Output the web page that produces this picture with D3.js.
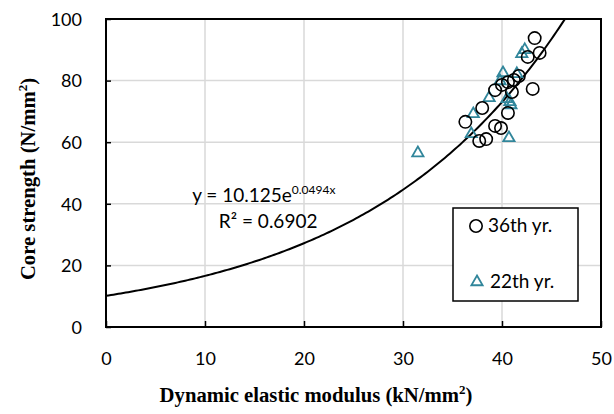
<!DOCTYPE html>
<meta charset="utf-8">
<style>
body { margin: 0; background: #fff; }
.tick text { font: 18px Lato, "Open Sans", sans-serif; fill: #000; }
.title { font: bold 20.7px "Liberation Serif", "Times New Roman", serif; fill: #000; }
.note { font: 19px Lato, "Open Sans", sans-serif; fill: #000; }
</style>
<body>
<script src="https://cdn.jsdelivr.net/npm/d3@7"></script>
<script>

// 36th yr. measurements (dynamic modulus, core strength)
var x36 = [36.3, 37.7, 38.4, 38.0, 39.3, 39.9, 40.6, 39.3, 40.0, 40.6, 41.2, 41.7, 41.0, 43.1, 42.6, 43.3, 43.8];
var y36 = [66.6, 60.4, 61.0, 71.1, 65.3, 64.6, 69.5, 76.9, 78.6, 79.5, 80.2, 81.5, 76.3, 77.3, 87.7, 93.8, 89.0];

// 22th yr. measurements
var x22 = [31.5, 36.9, 37.1, 38.7, 39.8, 40.1, 41.5, 42.0, 42.3, 40.5, 40.8, 40.9, 40.7];
var y22 = [56.8, 63.0, 69.5, 74.7, 80.2, 82.8, 82.5, 89.0, 90.3, 74.4, 73.4, 72.4, 61.7];

var xTicks = [0, 10, 20, 30, 40, 50];
var yTicks = [0, 20, 40, 60, 80, 100];

// fitted trend y = a * e^(b x)
var fitA = 10.125, fitB = 0.0494;

var margin = {top: 19, right: 13, bottom: 87, left: 106},
    width = 614 - margin.left - margin.right,
    height = 414 - margin.top - margin.bottom;

var x = d3.scaleLinear().domain([0, 50]).range([0, width]);
var y = d3.scaleLinear().domain([0, 100]).range([height, 0]);

var svg = d3.select("body").append("svg")
    .attr("width", 614)
    .attr("height", 414);

var g = svg.append("g")
    .attr("transform", "translate(" + margin.left + "," + margin.top + ")");

g.append("clipPath").attr("id", "plot")
  .append("rect").attr("width", width).attr("height", height);

// grid
g.append("g").selectAll("line")
    .data(xTicks.slice(1, -1))
  .enter().append("line")
    .attr("x1", d => x(d)).attr("x2", d => x(d))
    .attr("y1", 0).attr("y2", height)
    .attr("stroke", "#d9d9d9").attr("stroke-width", 1.5);

g.append("g").selectAll("line")
    .data(yTicks.slice(1, -1))
  .enter().append("line")
    .attr("y1", d => y(d)).attr("y2", d => y(d))
    .attr("x1", 0).attr("x2", width)
    .attr("stroke", "#d9d9d9").attr("stroke-width", 1.5);

// axes, ticks inside
var xAxis = d3.axisBottom(x).tickValues(xTicks).tickSizeInner(-6).tickSizeOuter(0);
var yAxis = d3.axisLeft(y).tickValues(yTicks).tickSizeInner(-5).tickSizeOuter(0);

var gx = g.append("g").attr("transform", "translate(0," + height + ")").call(xAxis);
var gy = g.append("g").call(yAxis);
[gx, gy].forEach(function(a) {
  a.select(".domain").remove();
  a.selectAll(".tick line").attr("stroke", "#000").attr("stroke-width", 1.5);
});
gx.selectAll(".tick text").attr("y", 38).attr("dy", null).attr("text-anchor", "middle");
gy.selectAll(".tick text").attr("x", -24).attr("dy", "0.35em").attr("text-anchor", "end");

// trend curve
var curveData = d3.range(0, 50.01, 0.25).map(function(v) { return [v, fitA * Math.exp(fitB * v)]; });
g.append("path")
    .datum(curveData)
    .attr("clip-path", "url(#plot)")
    .attr("fill", "none")
    .attr("stroke", "#000")
    .attr("stroke-width", 2)
    .attr("d", d3.line().x(d => x(d[0])).y(d => y(d[1])));

// points
var tri = d3.symbol().type(d3.symbolTriangle).size(55);

g.append("g").selectAll("path")
    .data(d3.range(x22.length))
  .enter().append("path")
    .attr("d", tri)
    .attr("transform", i => "translate(" + x(x22[i]) + "," + (y(y22[i]) + 1) + ")")
    .attr("fill", "none").attr("stroke", "#31869b").attr("stroke-width", 1.8);

g.append("g").selectAll("circle")
    .data(d3.range(x36.length))
  .enter().append("circle")
    .attr("cx", i => x(x36[i]))
    .attr("cy", i => y(y36[i]))
    .attr("r", 6.2)
    .attr("fill", "none").attr("stroke", "#000").attr("stroke-width", 1.6);

// plot border
g.append("rect")
    .attr("width", width).attr("height", height)
    .attr("fill", "none").attr("stroke", "#000").attr("stroke-width", 2);

// equation
var eq = g.append("text").attr("class", "note").attr("x", x(8.7)).attr("y", y(40.7));
eq.append("tspan").text("y = 10.125e");
eq.append("tspan").attr("font-size", 12).attr("dy", -8).text("0.0494x");
g.append("text").attr("class", "note").attr("x", x(11.4)).attr("y", y(32)).text("R² = 0.6902");

// legend
var lg = g.append("g").attr("transform", "translate(" + (453 - margin.left) + "," + (208 - margin.top) + ")");
lg.append("rect").attr("width", 125).attr("height", 93)
    .attr("fill", "#fff").attr("stroke", "#000").attr("stroke-width", 1.5);
lg.append("circle").attr("cx", 23).attr("cy", 18).attr("r", 6.2)
    .attr("fill", "none").attr("stroke", "#000").attr("stroke-width", 1.6);
lg.append("text").attr("class", "note").attr("x", 35).attr("y", 24).text("36th yr.");
lg.append("path").attr("d", tri).attr("transform", "translate(24,74)")
    .attr("fill", "none").attr("stroke", "#31869b").attr("stroke-width", 1.8);
lg.append("text").attr("class", "note").attr("x", 37).attr("y", 80).text("22th yr.");

// axis titles
var xt = svg.append("text").attr("class", "title")
    .attr("x", 316).attr("y", 402)
    .attr("text-anchor", "middle");
xt.append("tspan").text("Dynamic elastic modulus (kN/mm");
xt.append("tspan").attr("font-size", 13).attr("dy", -8).text("2");
xt.append("tspan").attr("dy", 8).text(")");

var yt = svg.append("text").attr("class", "title")
    .attr("transform", "translate(35,179) rotate(-90)")
    .attr("text-anchor", "middle");
yt.append("tspan").text("Core strength (N/mm");
yt.append("tspan").attr("font-size", 13).attr("dy", -8).text("2");
yt.append("tspan").attr("dy", 8).text(")");

</script>
